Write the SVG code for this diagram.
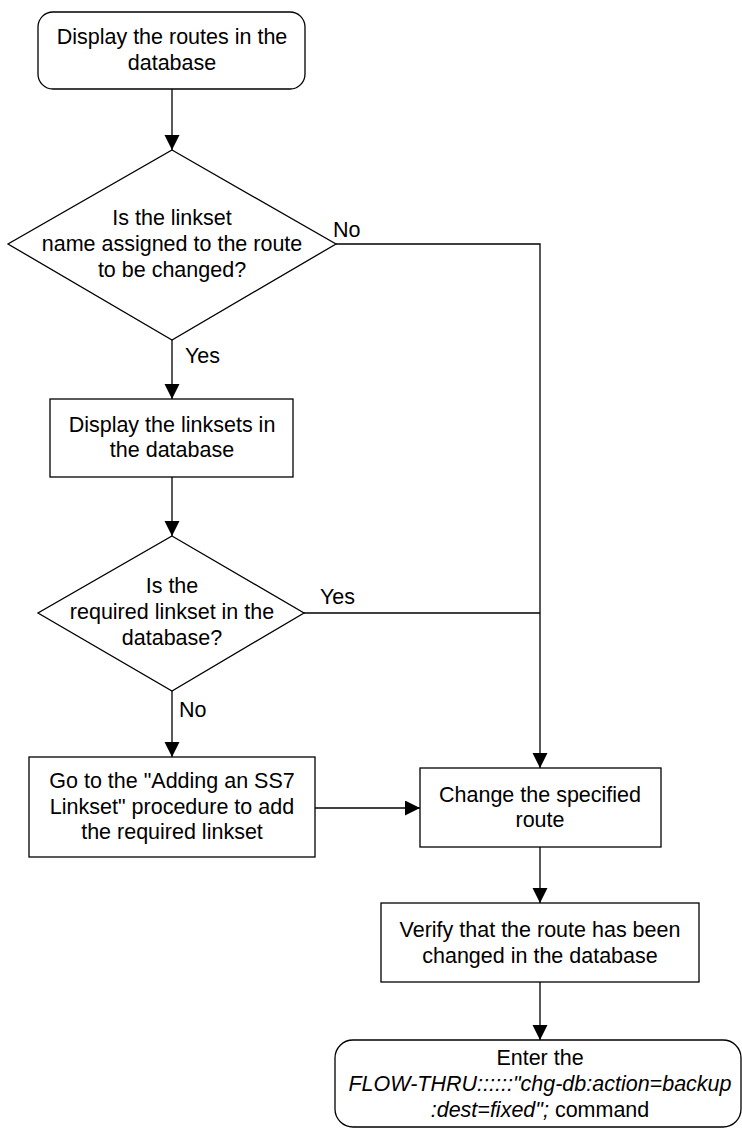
<svg xmlns="http://www.w3.org/2000/svg" width="742" height="1128" viewBox="0 0 742 1128">
<style>
.s{fill:#fff;stroke:#000;stroke-width:1.3}
.t{font-family:"Liberation Sans",Arial,sans-serif;font-size:21.5px;fill:#000;text-anchor:middle}
.l{font-family:"Liberation Sans",Arial,sans-serif;font-size:21.5px;fill:#000}
.c{fill:none;stroke:#000;stroke-width:1.3}
.i{font-style:italic}
</style>
<defs>
<marker id="ah" markerUnits="userSpaceOnUse" markerWidth="16" markerHeight="16" refX="15" refY="7.5" orient="auto">
<path d="M0,0 L15,7.5 L0,15 z" fill="#000"/>
</marker>
</defs>
<g id="connectors">
<path class="c" d="M172,89 V150" marker-end="url(#ah)"/>
<path class="c" d="M336,244 H540 V768" marker-end="url(#ah)"/>
<path class="c" d="M172,340 V399" marker-end="url(#ah)"/>
<path class="c" d="M172,477 V536" marker-end="url(#ah)"/>
<path class="c" d="M304,613 H540"/>
<path class="c" d="M172,691 V757" marker-end="url(#ah)"/>
<path class="c" d="M315,808 H420" marker-end="url(#ah)"/>
<path class="c" d="M540,847 V903" marker-end="url(#ah)"/>
<path class="c" d="M540,982 V1040" marker-end="url(#ah)"/>
<text class="l" x="333" y="237">No</text>
<text class="l" x="185" y="363">Yes</text>
<text class="l" x="320" y="604">Yes</text>
<text class="l" x="179" y="717">No</text>
</g>
<g id="start">
<rect class="s" x="38" y="12" width="267" height="77" rx="15"/>
<text class="t" x="172" y="44">Display the routes in the</text>
<text class="t" x="172" y="70">database</text>
</g>
<g id="dec1">
<polygon class="s" points="172,150 336,244 172,340 8,244"/>
<text class="t" x="172" y="225">Is the linkset</text>
<text class="t" x="172" y="251">name assigned to the route</text>
<text class="t" x="172" y="277">to be changed?</text>
</g>
<g id="linksets">
<rect class="s" x="50" y="399" width="243" height="78"/>
<text class="t" x="172" y="432">Display the linksets in</text>
<text class="t" x="172" y="457">the database</text>
</g>
<g id="dec2">
<polygon class="s" points="172,536 304,613 172,691 38,613"/>
<text class="t" x="172" y="593">Is the</text>
<text class="t" x="172" y="619">required linkset in the</text>
<text class="t" x="172" y="645">database?</text>
</g>
<g id="goto">
<rect class="s" x="29" y="757" width="286" height="100"/>
<text class="t" x="172" y="788">Go to the "Adding an SS7</text>
<text class="t" x="172" y="814">Linkset" procedure to add</text>
<text class="t" x="172" y="839">the required linkset</text>
</g>
<g id="change">
<rect class="s" x="420" y="768" width="241" height="79"/>
<text class="t" x="540" y="802">Change the specified</text>
<text class="t" x="540" y="827">route</text>
</g>
<g id="verify">
<rect class="s" x="381" y="903" width="318" height="79"/>
<text class="t" x="540" y="937">Verify that the route has been</text>
<text class="t" x="540" y="963">changed in the database</text>
</g>
<g id="end">
<rect class="s" x="335" y="1040" width="406" height="87" rx="18"/>
<text class="t" x="540" y="1065">Enter the</text>
<text class="t i" x="540" y="1091">FLOW-THRU::::::"chg-db:action=backup</text>
<text class="t" x="540" y="1117"><tspan class="i">:dest=fixed";</tspan> command</text>
</g>
</svg>
